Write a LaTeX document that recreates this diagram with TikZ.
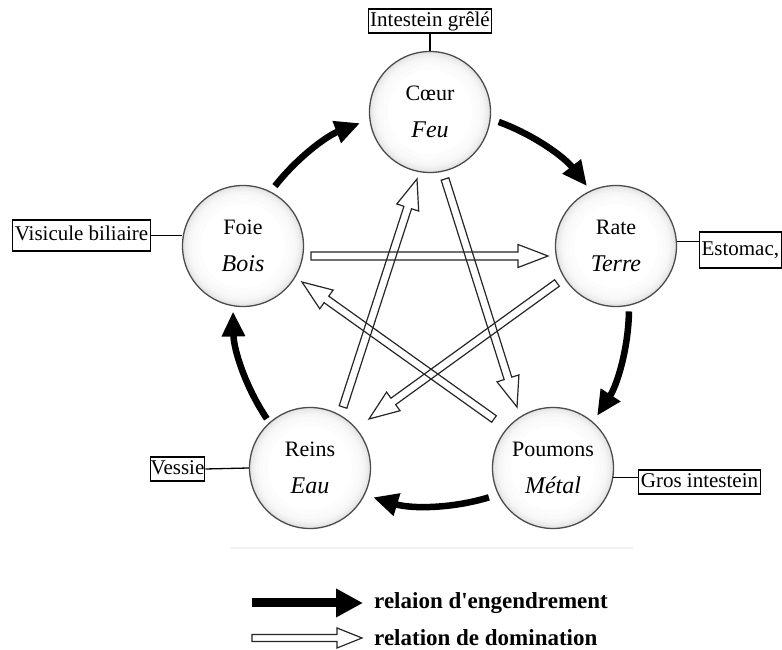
\documentclass[tikz,border=0pt]{standalone}
\usepackage{fontspec}
\setmainfont{Liberation Serif}
\usetikzlibrary{arrows.meta,calc}
\tikzset{
  elem/.style={circle, draw=black!70, line width=1.3pt, minimum size=121pt, inner sep=0pt,
    fill=white, align=center, font=\fontsize{22}{37}\selectfont,
    path picture={\foreach \r/\c in {62/14,60/10,58/7,56/5,54/3,51/2,47/1,42/0}
      {\fill[black!\c] (path picture bounding box.center) circle (\r);}}},
  organ/.style={draw, line width=1.1pt, inner xsep=2pt, inner ysep=1.5pt, text height=16pt,
    text depth=5pt, font=\fontsize{21}{21}\selectfont, fill=white},
  gen/.style={line width=6.5pt, -{Triangle[length=25pt,width=22pt]}},
  domline/.style={draw=black!85, line width=1.2pt, line join=miter},
  link/.style={line width=1.3pt},
  legtext/.style={anchor=west, inner sep=0pt, font=\fontsize{23}{23}\selectfont\bfseries}
}
\newcommand\hollowarrow[5]{%
  \draw[domline] let \p1=(#1), \p2=(#2),
    \n1={atan2(\y2-\y1,\x2-\x1)}, \n2={veclen(\x2-\x1,\y2-\y1)} in
    (\p1) -- ++(\n1+90:#3) -- ++(\n1:\n2-#5) -- ++(\n1+90:#4-#3) -- (\p2)
    -- ($(\p2)+(\n1+180:#5)+(\n1-90:#4)$) -- ++(\n1+90:#4-#3)
    -- ++(\n1+180:\n2-#5) -- cycle;}
\begin{document}
\begin{tikzpicture}[x=1pt,y=1pt]
\useasboundingbox (0,0) rectangle (782,650);
\fill[white] (0,0) rectangle (782,650);
\draw[black!5, line width=2pt] (230,102) -- (633,102);

% element circles
\node[elem] (coeur) at (430,538) {Cœur\\\textit{\fontsize{24}{37}\selectfont Feu}};
\node[elem] (rate)  at (616,404) {Rate\\\textit{\fontsize{24}{37}\selectfont Terre}};
\node[elem] (pou)   at (553,182) {Poumons\\\textit{\fontsize{24}{37}\selectfont Métal}};
\node[elem] (reins) at (310,182) {Reins\\\textit{\fontsize{24}{37}\selectfont Eau}};
\node[elem] (foie)  at (243,404) {Foie\\\textit{\fontsize{24}{37}\selectfont Bois}};
\coordinate (pc) at (431,342);

% organ boxes
\node[organ] (ig)  at (430,629) {Intestein grêlé};
\node[organ, minimum height=31pt] (vb) at (81.5,414.5) {Visicule biliaire};
\node[organ, minimum height=36pt, anchor=west] (est) at (699,400) {Estomac,};
\node[organ, inner xsep=0.5pt] (ves) at (177.5,181) {Vessie};
\node[organ] (gi)  at (699.5,168) {Gros intestein};

\draw[link] (ig.south) -- (coeur.north);
\draw[link] (vb.east) -- (vb.east -| foie.west);
\draw[link] (rate.4) -- (rate.4 -| est.west);
\draw[link] (ves.east) -- (reins.west);
\draw[link] (pou.-9) -- (pou.-9 -| gi.west);

% engendering cycle
\draw[gen] ($(pc)+(142:198)$) arc[start angle=142, end angle=111, radius=198];
\draw[gen] ($(pc)+(70:198)$) arc[start angle=70, end angle=38, radius=198];
\draw[gen] ($(pc)+(-1:198)$) arc[start angle=-1, end angle=-33, radius=198];
\draw[gen] ($(pc)+(-73:198)$) arc[start angle=-73, end angle=-107, radius=198];
\draw[gen] ($(pc)+(-146:198)$) arc[start angle=-146, end angle=-179, radius=198];

% domination star
\coordinate (d1a) at (311,394); \coordinate (d1b) at (548,394);
\coordinate (d2a) at (343,243); \coordinate (d2b) at (417,471);
\coordinate (d3a) at (445,471); \coordinate (d3b) at (517,243);
\coordinate (d4a) at (557,367); \coordinate (d4b) at (369,231);
\coordinate (d5a) at (494,231); \coordinate (d5b) at (302,368);
\hollowarrow{d1a}{d1b}{4}{11.5}{30}
\hollowarrow{d2a}{d2b}{4}{11.5}{30}
\hollowarrow{d3a}{d3b}{4}{11.5}{30}
\hollowarrow{d4a}{d4b}{4}{11.5}{30}
\hollowarrow{d5a}{d5b}{4}{11.5}{30}

% legend
\coordinate (l1a) at (252,47); \coordinate (l1b) at (363,47);
\coordinate (l2a) at (252,12); \coordinate (l2b) at (362,12);
\draw[line width=9pt, -{Triangle[length=27pt,width=27pt]}] (l1a) -- (l1b);
\hollowarrow{l2a}{l2b}{3.5}{10}{25}
\node[legtext] (t1) at (374,47) {relaion d\textquotesingle engendrement};
\node[legtext] (t2) at (374,12) {relation de domination};
\end{tikzpicture}
\end{document}
